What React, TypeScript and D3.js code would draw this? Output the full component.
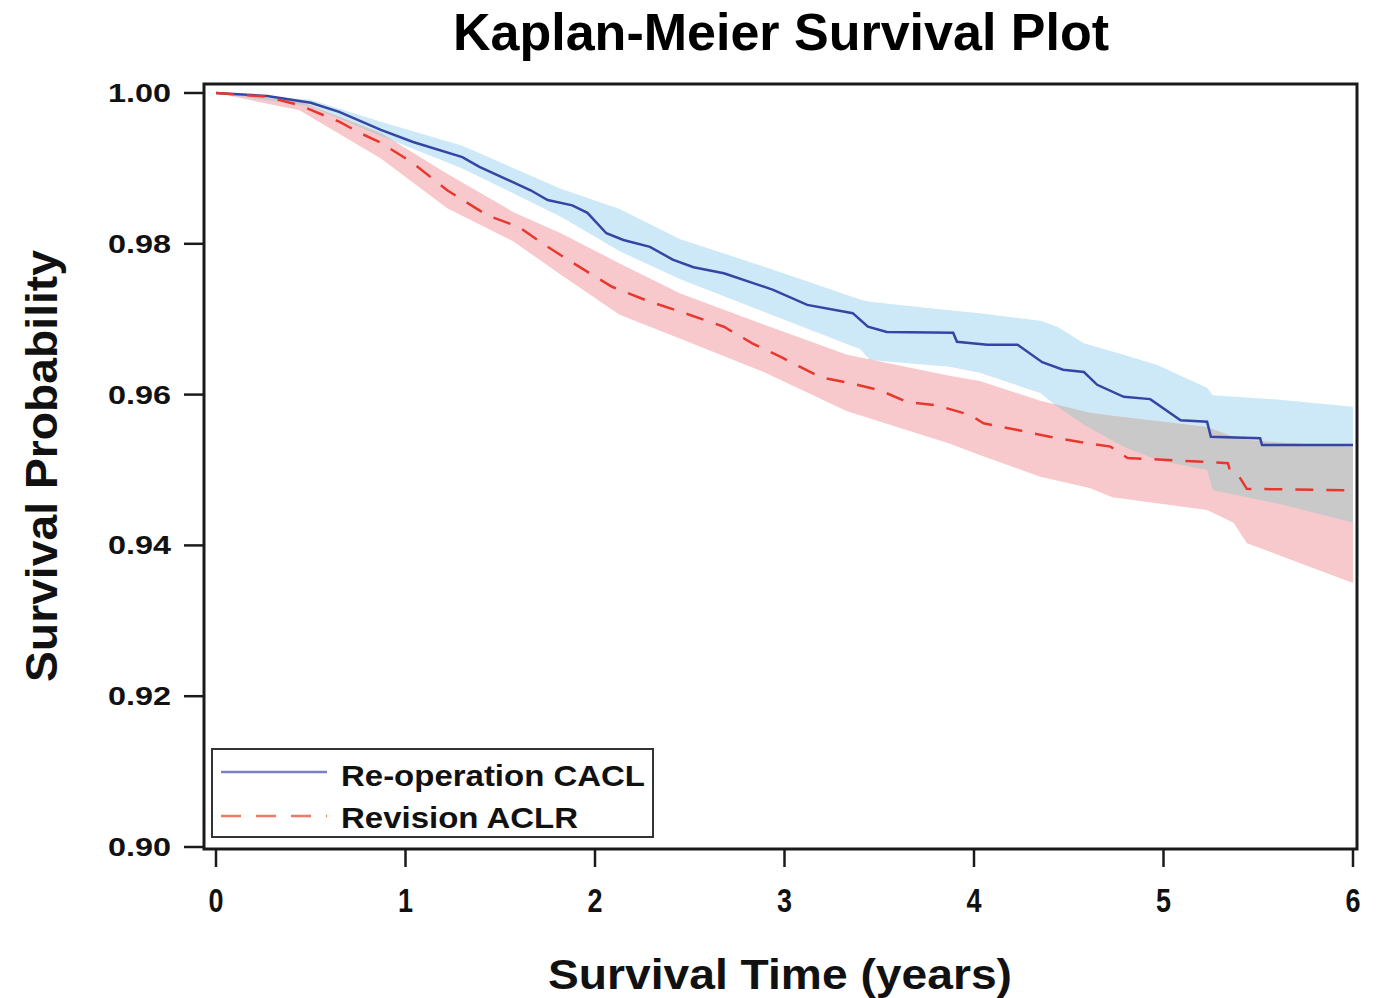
import React from "react";
import * as d3 from "d3";

// ---- Data ----
const xTicks = [0, 1, 2, 3, 4, 5, 6];
const yTicks = [0.9, 0.92, 0.94, 0.96, 0.98, 1.0];
const yTickLabels = ["0.90", "0.92", "0.94", "0.96", "0.98", "1.00"];

const seriesNames = ["Re-operation CACL", "Revision ACLR"];

const blueTime = [0, 0.27, 0.5, 0.65, 0.87, 1.04, 1.3, 1.39, 1.66, 1.75, 1.88, 1.96, 2.06, 2.15, 2.29, 2.41, 2.52, 2.68, 2.94, 3.12, 3.36, 3.44, 3.54, 3.89, 3.91, 4.07, 4.23, 4.36, 4.47, 4.58, 4.65, 4.79, 4.93, 5.09, 5.23, 5.25, 5.51, 5.52, 6.0];
const blueSurv = [1.0, 0.9996, 0.9987, 0.9975, 0.9951, 0.9935, 0.9915, 0.9902, 0.9871, 0.9858, 0.9851, 0.9841, 0.9814, 0.9805, 0.9796, 0.9779, 0.9769, 0.9761, 0.9739, 0.9719, 0.9708, 0.969, 0.9683, 0.9682, 0.967, 0.9666, 0.9666, 0.9643, 0.9633, 0.963, 0.9613, 0.9597, 0.9594, 0.9566, 0.9564, 0.9544, 0.9542, 0.9533, 0.9533];

const blueBandTime = [0, 0.5, 0.87, 1.3, 1.82, 2.13, 2.45, 2.89, 3.4, 3.45, 3.87, 4.03, 4.35, 4.44, 4.58, 4.79, 4.97, 5.23, 5.26, 5.63, 6.0];
const blueUpper = [1.0, 0.9991, 0.9962, 0.993, 0.9873, 0.9846, 0.9806, 0.977, 0.9726, 0.9723, 0.9712, 0.9708, 0.9698, 0.969, 0.9668, 0.9653, 0.9639, 0.9609, 0.9599, 0.9593, 0.9584];
const blueLower = [1.0, 0.9982, 0.9943, 0.99, 0.9836, 0.979, 0.9753, 0.971, 0.966, 0.9646, 0.9637, 0.9629, 0.9602, 0.9584, 0.956, 0.9531, 0.9513, 0.95, 0.9473, 0.9454, 0.943];

const redTime = [0, 0.27, 0.44, 0.65, 0.76, 0.87, 1.04, 1.22, 1.43, 1.6, 1.75, 1.92, 2.09, 2.27, 2.45, 2.68, 2.83, 2.98, 3.08, 3.19, 3.35, 3.5, 3.65, 3.8, 3.98, 4.05, 4.23, 4.4, 4.56, 4.72, 4.81, 5.05, 5.34, 5.35, 5.4, 5.44, 6.0];
const redSurv = [1.0, 0.9995, 0.9984, 0.9962, 0.9947, 0.9934, 0.9907, 0.9871, 0.9838, 0.9822, 0.9796, 0.9769, 0.9743, 0.9725, 0.971, 0.969, 0.9668, 0.965, 0.9637, 0.9623, 0.9615, 0.9606, 0.959, 0.9586, 0.9573, 0.9562, 0.9553, 0.9544, 0.9537, 0.9531, 0.9516, 0.9513, 0.9509, 0.95, 0.9491, 0.9475, 0.9473];

const redBandTime = [0, 0.44, 0.87, 1.22, 1.57, 1.82, 2.13, 2.45, 2.89, 3.33, 3.87, 4.03, 4.35, 4.61, 4.73, 5.23, 5.37, 5.44, 5.63, 6.0];
const redUpper = [1.0, 0.9989, 0.9947, 0.9893, 0.9842, 0.9814, 0.9774, 0.9734, 0.9693, 0.9653, 0.9625, 0.9618, 0.9592, 0.9576, 0.9572, 0.9557, 0.9544, 0.954, 0.9536, 0.9531];
const redLower = [1.0, 0.9977, 0.9913, 0.9847, 0.9803, 0.9759, 0.9706, 0.9674, 0.963, 0.9578, 0.9535, 0.952, 0.9491, 0.9476, 0.9464, 0.9447, 0.943, 0.9403, 0.9385, 0.935];

// ---- Style ----
const FONT = "'Liberation Sans', Arial, Helvetica, sans-serif";
const BLUE = "#3545a3";
const RED = "#e8382d";
const BLUE_BAND = "#cde9f8";
const RED_BAND = "#f8c9cc";
const OVERLAP = "#c9c9c9";
const AXIS = "#1a1a1a";

export default function App() {
  const W = 1382;
  const H = 998;
  const frame = { left: 204, right: 1357, top: 84, bottom: 849 };

  const x = d3.scaleLinear().domain([0, 6]).range([216, 1353]);
  const y = d3.scaleLinear().domain([0.9, 1.0]).range([847, 93]);

  const line = d3
    .line<[number, number]>()
    .x((d) => x(d[0]))
    .y((d) => y(d[1]))
    .curve(d3.curveLinear);

  const area = d3
    .area<[number, number, number]>()
    .x((d) => x(d[0]))
    .y0((d) => y(d[1]))
    .y1((d) => y(d[2]))
    .curve(d3.curveLinear);

  const bluePts = blueTime.map((t, i) => [t, blueSurv[i]] as [number, number]);
  const redPts = redTime.map((t, i) => [t, redSurv[i]] as [number, number]);
  const blueBand = blueBandTime.map((t, i) => [t, blueLower[i], blueUpper[i]] as [number, number, number]);
  const redBand = redBandTime.map((t, i) => [t, redLower[i], redUpper[i]] as [number, number, number]);

  const blueBandPath = area(blueBand) || "";
  const redBandPath = area(redBand) || "";

  return (
    <svg
      width={W}
      height={H}
      viewBox={`0 0 ${W} ${H}`}
      style={{ position: "absolute", left: 0, top: 0, background: "#fff" }}
    >
      <defs>
        <clipPath id="blueBandClip">
          <path d={blueBandPath} />
        </clipPath>
        <clipPath id="plotClip">
          <rect x={frame.left} y={frame.top} width={frame.right - frame.left} height={frame.bottom - frame.top} />
        </clipPath>
      </defs>

      {/* Title */}
      <text
        x={781}
        y={50}
        textAnchor="middle"
        fontFamily={FONT}
        fontWeight="bold"
        fontSize={52}
        fill="#000"
      >
        Kaplan-Meier Survival Plot
      </text>

      {/* Bands */}
      <g clipPath="url(#plotClip)">
        <path d={blueBandPath} fill={BLUE_BAND} />
        <path d={redBandPath} fill={RED_BAND} />
        <path d={redBandPath} fill={OVERLAP} clipPath="url(#blueBandClip)" />

        {/* Survival lines */}
        <path d={line(bluePts) || ""} fill="none" stroke={BLUE} strokeWidth={2.5} />
        <path
          d={line(redPts) || ""}
          fill="none"
          stroke={RED}
          strokeWidth={2.5}
          strokeDasharray="18 13"
        />
      </g>

      {/* Frame */}
      <rect
        x={frame.left}
        y={frame.top}
        width={frame.right - frame.left}
        height={frame.bottom - frame.top}
        fill="none"
        stroke={AXIS}
        strokeWidth={3}
      />

      {/* Y ticks */}
      {yTicks.map((v, i) => (
        <g key={"y" + i}>
          <line x1={184} x2={frame.left} y1={y(v)} y2={y(v)} stroke={AXIS} strokeWidth={2.5} />
          <text
            x={171}
            y={y(v) + 9}
            textAnchor="end"
            fontFamily={FONT}
            fontWeight="bold"
            fontSize={25.5}
            textLength={63}
            lengthAdjust="spacingAndGlyphs"
            fill="#111"
          >
            {yTickLabels[i]}
          </text>
        </g>
      ))}

      {/* X ticks */}
      {xTicks.map((t, i) => (
        <g key={"x" + i}>
          <line x1={x(t)} x2={x(t)} y1={frame.bottom} y2={867} stroke={AXIS} strokeWidth={2.5} />
          <text
            x={x(t)}
            y={912}
            textAnchor="middle"
            fontFamily={FONT}
            fontWeight="bold"
            fontSize={33}
            textLength={15}
            lengthAdjust="spacingAndGlyphs"
            fill="#111"
          >
            {String(t)}
          </text>
        </g>
      ))}

      {/* Axis labels */}
      <text
        x={780}
        y={989}
        textAnchor="middle"
        fontFamily={FONT}
        fontWeight="bold"
        fontSize={42}
        textLength={464}
        lengthAdjust="spacingAndGlyphs"
        fill="#111"
      >
        Survival Time (years)
      </text>
      <text
        transform={`translate(57, 466) rotate(-90)`}
        textAnchor="middle"
        fontFamily={FONT}
        fontWeight="bold"
        fontSize={45}
        textLength={432}
        lengthAdjust="spacingAndGlyphs"
        fill="#111"
      >
        Survival Probability
      </text>

      {/* Legend */}
      <g>
        <rect x={212} y={749} width={441} height={88} fill="#fff" stroke="#333" strokeWidth={2} />
        <line x1={221} x2={327} y1={772} y2={772} stroke="#7a80c6" strokeWidth={2.5} />
        <line x1={221} x2={327} y1={816} y2={816} stroke="#f07866" strokeWidth={2.5} strokeDasharray="20 15" />
        <text
          x={341}
          y={786}
          fontFamily={FONT}
          fontWeight="bold"
          fontSize={30}
          textLength={304}
          lengthAdjust="spacingAndGlyphs"
          fill="#111"
        >
          {seriesNames[0]}
        </text>
        <text
          x={341}
          y={828}
          fontFamily={FONT}
          fontWeight="bold"
          fontSize={30}
          textLength={237}
          lengthAdjust="spacingAndGlyphs"
          fill="#111"
        >
          {seriesNames[1]}
        </text>
      </g>
    </svg>
  );
}
